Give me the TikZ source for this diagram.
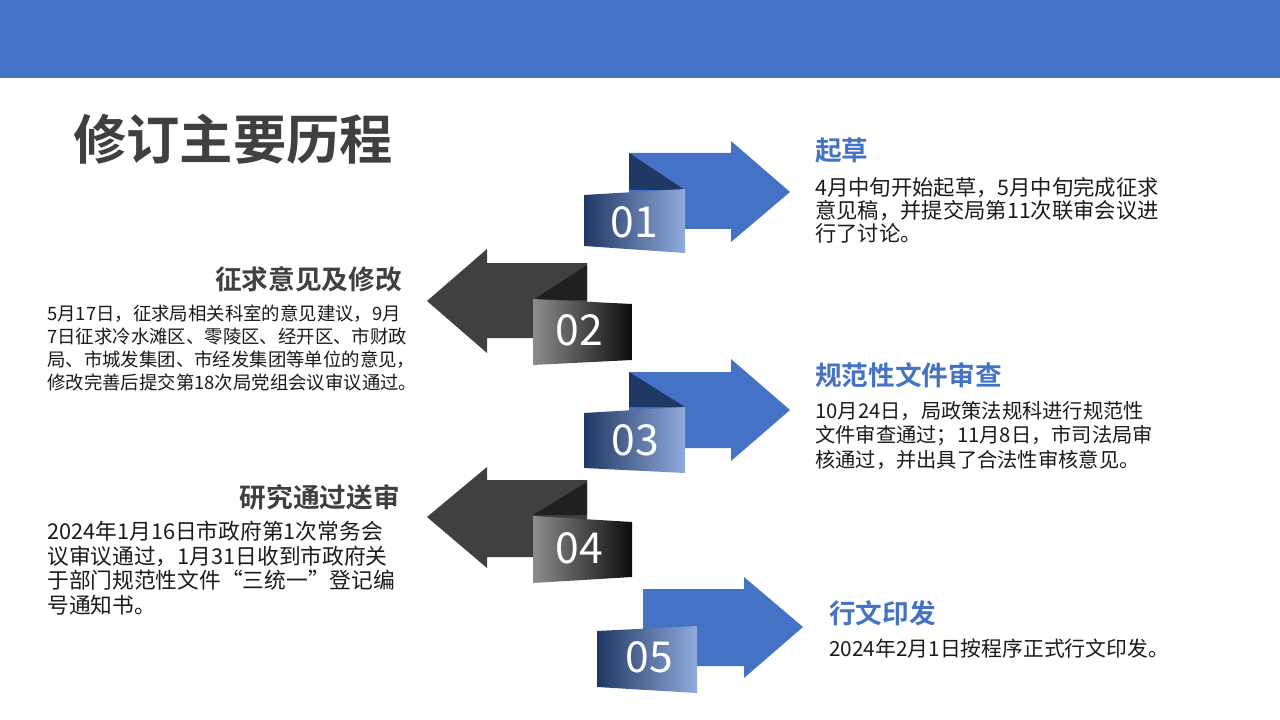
\documentclass[tikz,border=0pt]{standalone}
\usepackage{fontspec}
\setmainfont{Noto Sans CJK SC}[BoldFont=* Bold]
\usepackage{tikz}
\usetikzlibrary{positioning}

\definecolor{slideblue}{HTML}{4472C4}
\definecolor{folddark}{HTML}{203864}
\definecolor{panelmid}{HTML}{2F5597}
\definecolor{panellight}{HTML}{8FAADC}
\definecolor{arrowgrey}{HTML}{404040}
\definecolor{foldgrey}{HTML}{202020}
\definecolor{titlegrey}{HTML}{404040}
\definecolor{bodyblack}{HTML}{1A1A1A}

\tikzset{
  headblue/.style={inner sep=0pt, text=slideblue, font=\bfseries\fontsize{20}{24}\selectfont},
  headgrey/.style={inner sep=0pt, text=titlegrey, font=\bfseries\fontsize{20}{24}\selectfont},
  bodytext/.style={inner sep=0pt, anchor=north west, align=left, text=bodyblack},
  numtext/.style={inner sep=0pt, text=white, font=\fontsize{32}{34}\selectfont},
  bluepanel/.style={left color=folddark, middle color=panelmid, right color=panellight},
  greypanel/.style={left color=black!45, middle color=black!85, right color=black!95}
}

\begin{document}
\begin{tikzpicture}[x=0.75pt, y=-0.75pt]
      \useasboundingbox (0,0) rectangle (1280,720);
      \fill[slideblue] (0,0) rectangle (1280,78);

      \node (title) [anchor=west, inner sep=0pt, text=titlegrey, font=\bfseries\fontsize{40}{44}\selectfont] at (73,139) {修订主要历程};

      % step 01
      \fill[slideblue] (629,153) -- (731,153) -- (731,141) -- (790,192) -- (731,242) -- (731,229) -- (629,229) -- cycle;
      \fill[folddark] (629,153) -- (685,190) -- (629,190) -- cycle;
      \shade[bluepanel] (584,195) -- (685,189) -- (685,253) -- (584,246) -- cycle;
      \node (num1) [numtext] at (634,222) {01};
      \node (head1) [headblue, anchor=west] at (815,151) {起草};
      \node (body1) [bodytext, font=\fontsize{16}{17.25}\selectfont] at (815,177)
        {4月中旬开始起草，5月中旬完成征求\\意见稿，并提交局第11次联审会议进\\行了讨论。};

      % step 02
      \fill[arrowgrey] (587,263) -- (487,263) -- (487,249) -- (427,301) -- (487,353) -- (487,338) -- (587,338) -- cycle;
      \fill[foldgrey] (587,265) -- (587,300) -- (533,300) -- cycle;
      \shade[greypanel] (533,299) -- (632,304) -- (632,360) -- (533,365) -- cycle;
      \node (num2) [numtext] at (579,330) {02};
      \node (head2) [headgrey, anchor=east] at (402,279) {征求意见及修改};
      \node (body2) [bodytext, font=\fontsize{13.8}{17.25}\selectfont] at (47,305)
        {5月17日，征求局相关科室的意见建议，9月\\7日征求冷水滩区、零陵区、经开区、市财政\\局、市城发集团、市经发集团等单位的意见，\\修改完善后提交第18次局党组会议审议通过。};

      % step 03
      \fill[slideblue] (629,372) -- (731,372) -- (731,359) -- (790,410) -- (731,461) -- (731,448) -- (629,448) -- cycle;
      \fill[folddark] (629,372) -- (685,407) -- (629,407) -- cycle;
      \shade[bluepanel] (584,413) -- (685,407) -- (685,473) -- (584,468) -- cycle;
      \node (num3) [numtext] at (635,440) {03};
      \node (head3) [headblue, anchor=west] at (815,375) {规范性文件审查};
      \node (body3) [bodytext, font=\fontsize{15.2}{18.4}\selectfont] at (815,401)
        {10月24日，局政策法规科进行规范性\\文件审查通过；11月8日，市司法局审\\核通过，并出具了合法性审核意见。};

      % step 04
      \fill[arrowgrey] (587,480) -- (487,480) -- (487,467) -- (427,517) -- (487,568) -- (487,557) -- (587,557) -- cycle;
      \fill[foldgrey] (587,482) -- (587,515) -- (533,515) -- cycle;
      \shade[greypanel] (533,516) -- (632,522) -- (632,577) -- (533,583) -- cycle;
      \node (num4) [numtext] at (579,548) {04};
      \node (head4) [headgrey, anchor=east] at (400,497) {研究通过送审};
      \node (body4) [bodytext, font=\fontsize{16.3}{18.4}\selectfont] at (47,521)
        {2024年1月16日市政府第1次常务会\\议审议通过，1月31日收到市政府关\\于部门规范性文件“三统一”登记编\\号通知书。};

      % step 05
      \fill[slideblue] (643,589) -- (744,589) -- (744,577) -- (803,627) -- (744,678) -- (744,666) -- (643,666) -- cycle;
      \shade[bluepanel] (597,631) -- (697,626) -- (697,693) -- (597,687) -- cycle;
      \node (num5) [numtext] at (649,657) {05};
      \node (head5) [headblue, anchor=west] at (829,613) {行文印发};
      \node (body5) [bodytext, font=\fontsize{15.6}{18}\selectfont] at (829,639)
        {2024年2月1日按程序正式行文印发。};

    \end{tikzpicture}
\end{document}
